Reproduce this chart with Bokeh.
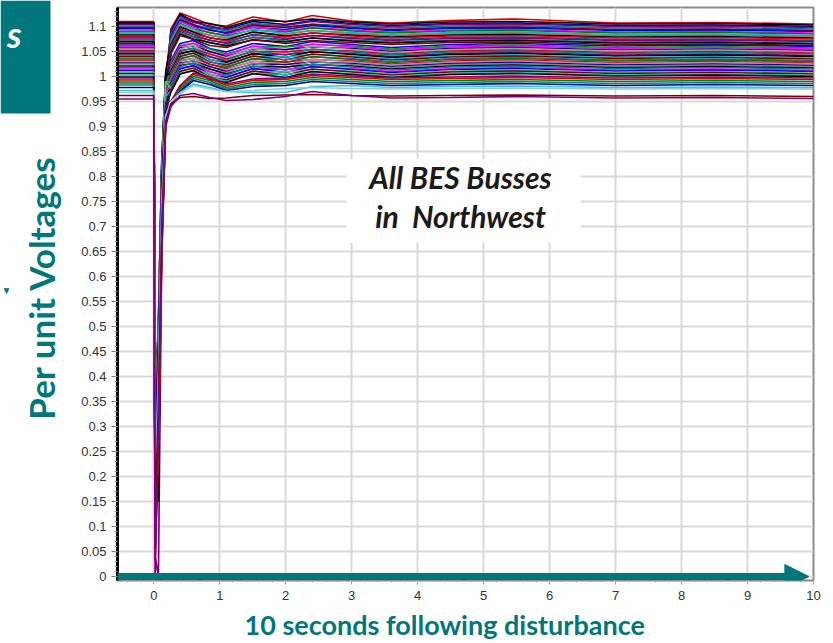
import math
from bokeh.plotting import figure
from bokeh.layouts import row
from bokeh.models import (FixedTicker, CustomJSTickFormatter, BoxAnnotation, Label,
                          Arrow, NormalHead, Title, Range1d)
from bokeh.embed import file_html
from bokeh.resources import INLINE

# ---------------- data ----------------
TIME_S = [-0.55, 0.0, 0.02, 0.07, 0.12, 0.18, 0.26, 0.4, 0.6, 0.85, 1.1, 1.5,
          2.0, 2.4, 3.0, 3.6, 4.5, 5.5, 7.0, 8.5, 10.0]

UPPER_BUSES = [
    [1.110, 1.110, 0.12, 0.35, 0.72, 0.96, 1.095, 1.127, 1.117, 1.104, 1.101, 1.119, 1.109, 1.122, 1.111, 1.107, 1.112, 1.115, 1.107, 1.108, 1.105],
    [1.108, 1.108, 0.25, 0.42, 0.78, 0.99, 1.090, 1.125, 1.110, 1.106, 1.098, 1.113, 1.110, 1.115, 1.109, 1.105, 1.109, 1.110, 1.105, 1.106, 1.103],
    [1.106, 1.106, 0.08, 0.30, 0.68, 0.93, 1.088, 1.122, 1.112, 1.098, 1.095, 1.110, 1.104, 1.112, 1.106, 1.102, 1.106, 1.107, 1.102, 1.103, 1.100],
    [1.104, 1.104, 0.30, 0.48, 0.80, 1.00, 1.085, 1.119, 1.108, 1.101, 1.094, 1.104, 1.102, 1.110, 1.104, 1.100, 1.104, 1.105, 1.100, 1.101, 1.098],
    [1.101, 1.101, 0.15, 0.38, 0.74, 0.97, 1.083, 1.118, 1.103, 1.097, 1.091, 1.107, 1.099, 1.105, 1.101, 1.097, 1.101, 1.102, 1.097, 1.098, 1.095],
    [1.098, 1.098, 0.05, 0.28, 0.66, 0.92, 1.078, 1.114, 1.104, 1.092, 1.088, 1.102, 1.098, 1.104, 1.098, 1.094, 1.098, 1.099, 1.094, 1.095, 1.092],
    [1.096, 1.096, 0.22, 0.44, 0.77, 0.98, 1.080, 1.112, 1.100, 1.094, 1.086, 1.098, 1.094, 1.102, 1.096, 1.092, 1.096, 1.097, 1.092, 1.093, 1.090],
    [1.093, 1.093, 0.10, 0.33, 0.70, 0.95, 1.075, 1.110, 1.099, 1.087, 1.083, 1.099, 1.091, 1.098, 1.093, 1.089, 1.093, 1.094, 1.089, 1.090, 1.087],
    [1.090, 1.090, 0.28, 0.46, 0.79, 0.99, 1.073, 1.106, 1.095, 1.088, 1.081, 1.093, 1.089, 1.097, 1.091, 1.087, 1.091, 1.092, 1.087, 1.088, 1.085],
    [1.088, 1.088, 0.18, 0.40, 0.75, 0.97, 1.070, 1.104, 1.094, 1.082, 1.078, 1.094, 1.086, 1.092, 1.088, 1.084, 1.088, 1.089, 1.084, 1.085, 1.082],
    [1.085, 1.085, 0.07, 0.29, 0.67, 0.93, 1.066, 1.101, 1.090, 1.083, 1.076, 1.088, 1.084, 1.092, 1.086, 1.082, 1.086, 1.087, 1.082, 1.083, 1.080],
    [1.083, 1.083, 0.33, 0.50, 0.82, 1.01, 1.064, 1.099, 1.089, 1.077, 1.073, 1.089, 1.081, 1.087, 1.083, 1.079, 1.083, 1.084, 1.079, 1.080, 1.077],
    [1.080, 1.080, 0.13, 0.36, 0.72, 0.95, 1.060, 1.096, 1.085, 1.078, 1.071, 1.083, 1.079, 1.087, 1.081, 1.077, 1.081, 1.082, 1.077, 1.078, 1.075],
    [1.078, 1.078, 0.24, 0.43, 0.77, 0.98, 1.058, 1.093, 1.084, 1.072, 1.068, 1.084, 1.076, 1.082, 1.078, 1.074, 1.078, 1.079, 1.074, 1.075, 1.072],
    [1.075, 1.075, 0.04, 0.00, 0.64, 0.91, 1.054, 1.090, 1.080, 1.073, 1.066, 1.078, 1.074, 1.082, 1.076, 1.072, 1.076, 1.077, 1.072, 1.073, 1.070],
    [1.073, 1.073, 0.20, 0.41, 0.76, 0.97, 1.052, 1.088, 1.079, 1.067, 1.063, 1.079, 1.071, 1.077, 1.073, 1.069, 1.073, 1.074, 1.069, 1.070, 1.067],
    [1.070, 1.070, 0.30, 0.15, 0.73, 0.96, 1.048, 1.085, 1.075, 1.068, 1.061, 1.073, 1.069, 1.077, 1.071, 1.067, 1.071, 1.072, 1.067, 1.068, 1.065],
    [1.067, 1.067, 0.29, 0.47, 0.80, 0.99, 1.046, 1.082, 1.074, 1.062, 1.058, 1.074, 1.066, 1.072, 1.068, 1.064, 1.068, 1.069, 1.064, 1.065, 1.062],
]

MIDDLE_BUSES = [
    [1.065, 1.065, 0.09, 0.31, 0.69, 0.94, 1.032, 1.066, 1.072, 1.056, 1.049, 1.066, 1.060, 1.070, 1.064, 1.058, 1.064, 1.066, 1.061, 1.063, 1.060],
    [1.062, 1.062, 0.26, 0.45, 0.78, 0.98, 1.028, 1.062, 1.066, 1.055, 1.045, 1.060, 1.059, 1.064, 1.061, 1.055, 1.061, 1.063, 1.058, 1.060, 1.057],
    [1.060, 1.060, 0.11, 0.34, 0.71, 0.95, 1.024, 1.060, 1.067, 1.049, 1.043, 1.061, 1.053, 1.065, 1.059, 1.053, 1.059, 1.061, 1.056, 1.058, 1.055],
    [1.057, 1.057, 0.31, 0.49, 0.81, 1.00, 1.022, 1.057, 1.061, 1.050, 1.040, 1.055, 1.054, 1.059, 1.056, 1.050, 1.056, 1.058, 1.053, 1.055, 1.052],
    [1.055, 1.055, 0.17, 0.39, 0.74, 0.96, 1.019, 1.055, 1.062, 1.044, 1.038, 1.056, 1.048, 1.060, 1.054, 1.048, 1.054, 1.056, 1.051, 1.053, 1.050],
    [1.052, 1.052, 0.06, 0.27, 0.65, 0.92, 1.016, 1.052, 1.056, 1.045, 1.035, 1.050, 1.049, 1.054, 1.051, 1.045, 1.051, 1.053, 1.048, 1.050, 1.047],
    [1.050, 1.050, 0.23, 0.44, 0.77, 0.97, 1.014, 1.050, 1.057, 1.039, 1.033, 1.051, 1.043, 1.055, 1.049, 1.043, 1.049, 1.051, 1.046, 1.048, 1.045],
    [1.047, 1.047, 0.14, 0.36, 0.72, 0.95, 1.011, 1.047, 1.051, 1.040, 1.030, 1.045, 1.044, 1.049, 1.046, 1.040, 1.046, 1.048, 1.043, 1.045, 1.042],
    [1.045, 1.045, 0.34, 0.51, 0.83, 1.00, 1.009, 1.045, 1.052, 1.034, 1.028, 1.046, 1.038, 1.050, 1.044, 1.038, 1.044, 1.046, 1.041, 1.043, 1.040],
    [1.042, 1.042, 0.08, 0.30, 0.68, 0.93, 1.006, 1.042, 1.046, 1.035, 1.025, 1.040, 1.039, 1.044, 1.041, 1.035, 1.041, 1.043, 1.038, 1.040, 1.037],
    [1.040, 1.040, 0.21, 0.42, 0.76, 0.97, 1.004, 1.040, 1.047, 1.029, 1.023, 1.041, 1.033, 1.045, 1.039, 1.033, 1.039, 1.041, 1.036, 1.038, 1.035],
    [1.037, 1.037, 0.12, 0.35, 0.70, 0.94, 1.001, 1.037, 1.041, 1.030, 1.020, 1.035, 1.034, 1.039, 1.036, 1.030, 1.036, 1.038, 1.033, 1.035, 1.032],
    [1.035, 1.035, 0.27, 0.46, 0.79, 0.98, 0.999, 1.035, 1.042, 1.024, 1.018, 1.036, 1.028, 1.040, 1.034, 1.028, 1.034, 1.036, 1.031, 1.033, 1.030],
    [1.032, 1.032, 0.03, 0.25, 0.63, 0.91, 0.996, 1.032, 1.036, 1.025, 1.015, 1.030, 1.029, 1.034, 1.031, 1.025, 1.031, 1.033, 1.028, 1.030, 1.027],
    [1.030, 1.030, 0.19, 0.40, 0.75, 0.96, 0.994, 1.030, 1.037, 1.019, 1.013, 1.031, 1.023, 1.035, 1.029, 1.023, 1.029, 1.031, 1.026, 1.028, 1.025],
    [1.027, 1.027, 0.10, 0.32, 0.69, 0.93, 0.991, 1.027, 1.031, 1.020, 1.010, 1.025, 1.024, 1.029, 1.026, 1.020, 1.026, 1.028, 1.023, 1.025, 1.022],
    [1.025, 1.025, 0.30, 0.48, 0.80, 0.99, 0.989, 1.025, 1.032, 1.014, 1.008, 1.026, 1.018, 1.030, 1.024, 1.018, 1.024, 1.026, 1.021, 1.023, 1.020],
    [1.021, 1.021, 0.16, 0.38, 0.73, 0.95, 0.986, 1.022, 1.026, 1.015, 1.005, 1.020, 1.019, 1.024, 1.021, 1.015, 1.021, 1.023, 1.018, 1.020, 1.017],
    [1.018, 1.018, 0.05, 0.28, 0.66, 0.92, 0.984, 1.020, 1.027, 1.009, 1.003, 1.021, 1.013, 1.025, 1.019, 1.013, 1.019, 1.021, 1.016, 1.018, 1.015],
    [1.015, 1.015, 0.25, 0.45, 0.78, 0.97, 0.981, 1.017, 1.021, 1.010, 1.000, 1.015, 1.014, 1.019, 1.016, 1.010, 1.016, 1.018, 1.013, 1.015, 1.012],
    [1.012, 1.012, 0.13, 0.35, 0.71, 0.94, 0.979, 1.015, 1.022, 1.004, 0.998, 1.016, 1.008, 1.020, 1.014, 1.008, 1.014, 1.016, 1.011, 1.013, 1.010],
    [1.009, 1.009, 0.32, 0.50, 0.81, 0.99, 0.976, 1.012, 1.016, 1.005, 0.995, 1.010, 1.009, 1.014, 1.011, 1.005, 1.011, 1.013, 1.008, 1.010, 1.007],
    [1.006, 1.006, 0.09, 0.31, 0.68, 0.93, 0.974, 1.010, 1.017, 0.999, 0.993, 1.011, 1.003, 1.015, 1.009, 1.003, 1.009, 1.011, 1.006, 1.008, 1.005],
    [1.003, 1.003, 0.22, 0.43, 0.77, 0.96, 0.971, 1.007, 1.011, 1.000, 0.990, 1.005, 1.004, 1.009, 1.006, 1.000, 1.006, 1.008, 1.003, 1.005, 1.002],
    [0.999, 0.999, 0.14, 0.36, 0.72, 0.94, 0.969, 1.005, 1.012, 0.994, 0.988, 1.006, 0.998, 1.010, 1.004, 0.998, 1.004, 1.006, 1.001, 1.003, 1.000],
]

LOWER_BUSES = [
    [0.995, 0.995, 0.28, 0.47, 0.79, 0.95, 0.950, 0.982, 1.007, 0.999, 0.985, 0.995, 0.997, 1.005, 1.001, 0.997, 0.999, 1.001, 0.997, 0.999, 0.997],
    [0.991, 0.991, 0.07, 0.29, 0.66, 0.91, 0.946, 0.979, 1.004, 0.996, 0.982, 0.992, 0.994, 1.002, 0.998, 0.994, 0.996, 0.998, 0.994, 0.996, 0.994],
    [0.987, 0.987, 0.18, 0.40, 0.74, 0.93, 0.942, 0.975, 1.000, 0.992, 0.978, 0.988, 0.990, 0.998, 0.994, 0.990, 0.992, 0.994, 0.990, 0.992, 0.990],
    [0.983, 0.983, 0.11, 0.33, 0.70, 0.92, 0.940, 0.972, 0.996, 0.988, 0.975, 0.984, 0.986, 0.994, 0.990, 0.986, 0.988, 0.990, 0.986, 0.988, 0.986],
    [0.978, 0.978, 0.26, 0.46, 0.78, 0.93, 0.945, 0.970, 0.992, 0.984, 0.972, 0.980, 0.982, 0.990, 0.986, 0.982, 0.984, 0.986, 0.982, 0.984, 0.982],
    [0.972, 0.972, 0.20, 0.41, 0.75, 0.92, 0.948, 0.968, 0.985, 0.978, 0.970, 0.968, 0.968, 0.980, 0.982, 0.978, 0.980, 0.981, 0.978, 0.979, 0.978],
    [0.968, 0.968, 0.15, 0.37, 0.72, 0.92, 0.950, 0.966, 0.982, 0.975, 0.970, 0.972, 0.976, 0.978, 0.976, 0.975, 0.976, 0.977, 0.975, 0.976, 0.975],
    [0.962, 0.962, 0.12, 0.34, 0.70, 0.91, 0.945, 0.958, 0.960, 0.956, 0.957, 0.962, 0.963, 0.964, 0.962, 0.961, 0.962, 0.963, 0.961, 0.962, 0.960],
    [0.955, 0.955, 0.00, 0.30, 0.66, 0.90, 0.940, 0.962, 0.966, 0.958, 0.952, 0.954, 0.960, 0.970, 0.962, 0.957, 0.958, 0.960, 0.957, 0.958, 0.956],
]

X_TICKS = [0, 1, 2, 3, 4, 5, 6, 7, 8, 9, 10]
Y_TICKS = [0, 0.05, 0.1, 0.15, 0.2, 0.25, 0.3, 0.35, 0.4, 0.45, 0.5, 0.55,
           0.6, 0.65, 0.7, 0.75, 0.8, 0.85, 0.9, 0.95, 1.0, 1.05, 1.1]
Y_LABEL = "Per unit Voltages"
X_LABEL = "10 seconds following disturbance"
NOTE_LINES = ["All BES Busses", "in\u00a0 Northwest"]
CROPPED_TITLE = "s"

# ---------------- styles ----------------
TEAL = "#00777B"
LINE_COLORS = [
    "#e00000", "#000000", "#000080", "#800080", "#008080", "#800000", "#0000ff",
    "#ff00ff", "#008000", "#00c0c0", "#808080", "#000000", "#e00000", "#404080",
    "#800080", "#008080", "#000000", "#800000",
    "#0000ff", "#00a000", "#ff00ff", "#000080", "#a0a0a0", "#e00000", "#008080",
    "#800080", "#000000", "#00c0c0", "#800000", "#4060c0", "#008000", "#e00000",
    "#c080c0", "#000080", "#808080", "#000000", "#008080", "#ff00ff", "#0000ff",
    "#60c060", "#800000", "#00c0c0", "#000000",
    "#800080", "#e00000", "#008000", "#008080", "#000080", "#40c0e0", "#80d0e0",
    "#800000", "#800080",
]

LEFT_W = 66      # strip holding the slide decoration and the vertical title
TOTAL_W, TOTAL_H = 833, 643
FRAME_TOP, FRAME_BOTTOM = 7, 580

# ---------------- left strip (pixel coordinates, y downward) ----------------
side = figure(width=LEFT_W, height=TOTAL_H, output_backend="svg",
              toolbar_location=None, x_range=Range1d(0, LEFT_W),
              y_range=Range1d(TOTAL_H, 0), min_border=0,
              x_axis_type=None, y_axis_type=None)
side.grid.visible = False
side.outline_line_color = None
side.background_fill_color = "white"
side.border_fill_color = "white"

# ---------------- main chart ----------------
p = figure(width=TOTAL_W - LEFT_W, height=TOTAL_H, output_backend="svg",
           toolbar_location=None,
           x_range=Range1d(-0.55, 10.0), y_range=Range1d(-0.008, 1.138),
           min_border_left=117 - LEFT_W, min_border_right=20,
           min_border_top=FRAME_TOP, min_border_bottom=TOTAL_H - FRAME_BOTTOM)

try:
    side.frame_align = False
    p.frame_align = False
except AttributeError:
    side.y_range = Range1d(FRAME_BOTTOM, FRAME_TOP)

side.add_layout(BoxAnnotation(left=0, right=50, top=0, bottom=113,
                              fill_color=TEAL, fill_alpha=1.0, line_color=None))
side.add_layout(Label(x=21, y=33, text=CROPPED_TITLE, text_align="right",
                      text_baseline="alphabetic", text_font="Lato",
                      text_font_style="bold italic", text_font_size="36px",
                      text_color="white"))
side.add_layout(Label(x=6, y=290, text="\u25BC", text_align="center",
                      text_baseline="middle", text_font_size="10px",
                      text_color=TEAL))
side.add_layout(Label(x=40, y=287, text=Y_LABEL, angle=math.pi / 2,
                      text_align="center", text_baseline="middle",
                      text_font="Lato", text_font_style="bold",
                      text_font_size="35px", text_color=TEAL))

p.background_fill_color = "white"
p.border_fill_color = "white"
p.outline_line_color = "#8a8a8a"
p.outline_line_width = 2

# grid
p.xgrid.ticker = FixedTicker(ticks=X_TICKS)
p.ygrid.ticker = FixedTicker(ticks=Y_TICKS)
for g in (p.xgrid[0], p.ygrid[0]):
    g.grid_line_color = "#d9d9d9"
    g.grid_line_width = 2

# y axis
yax = p.yaxis[0]
yax.ticker = FixedTicker(ticks=Y_TICKS, minor_ticks=[i / 100 for i in range(0, 114)])
yax.formatter = CustomJSTickFormatter(code="""
    return tick.toFixed(2).replace(/0+$/, '').replace(/\\.$/, '');
""")
yax.axis_line_color = "black"
yax.axis_line_width = 3
yax.major_tick_line_color = "#777777"
yax.major_tick_out = 6
yax.major_tick_in = 0
yax.minor_tick_line_color = "#999999"
yax.minor_tick_out = 3
yax.minor_tick_in = 0
yax.major_label_standoff = 5
yax.major_label_text_font = "Liberation Sans"
yax.major_label_text_font_size = "13px"
yax.major_label_text_color = "#333333"

# x axis
xax = p.xaxis[0]
xax.ticker = FixedTicker(ticks=X_TICKS, minor_ticks=[i / 5 for i in range(-2, 51)])
xax.axis_line_color = None
xax.major_tick_line_color = "#999999"
xax.major_tick_out = 4
xax.major_tick_in = 0
xax.minor_tick_line_color = "#aaaaaa"
xax.minor_tick_out = 2
xax.minor_tick_in = 0
xax.major_label_standoff = 6
xax.major_label_text_font = "Liberation Sans"
xax.major_label_text_font_size = "13px"
xax.major_label_text_color = "#333333"

p.add_layout(Title(text=X_LABEL, align="left", offset=127, text_font="Lato",
                   text_font_style="bold", text_font_size="27px",
                   text_color=TEAL, standoff=6), "below")

# voltage traces
all_buses = UPPER_BUSES + MIDDLE_BUSES + LOWER_BUSES
for vals, col in zip(all_buses, LINE_COLORS):
    p.line(TIME_S, vals, line_color=col, line_width=1.7)

# note box
p.add_layout(BoxAnnotation(left=2.92, right=6.47, bottom=0.668, top=0.835,
                           fill_color="white", fill_alpha=1.0, line_color=None))
for txt, yy in zip(NOTE_LINES, [0.800, 0.722]):
    p.add_layout(Label(x=4.65, y=yy, text=txt, text_align="center",
                       text_baseline="middle", text_font="Lato",
                       text_font_style="bold italic", text_font_size="30px",
                       text_color="#1a1a1a"))

# teal arrow along the time axis
p.add_layout(Arrow(x_start=-0.55, y_start=0.0, x_end=9.93, y_end=0.0,
                   line_color=TEAL, line_width=7,
                   end=NormalHead(size=24, fill_color=TEAL, line_color=TEAL)))

layout = row(side, p, spacing=0)
open("out.html", "w").write(file_html(layout, INLINE))
